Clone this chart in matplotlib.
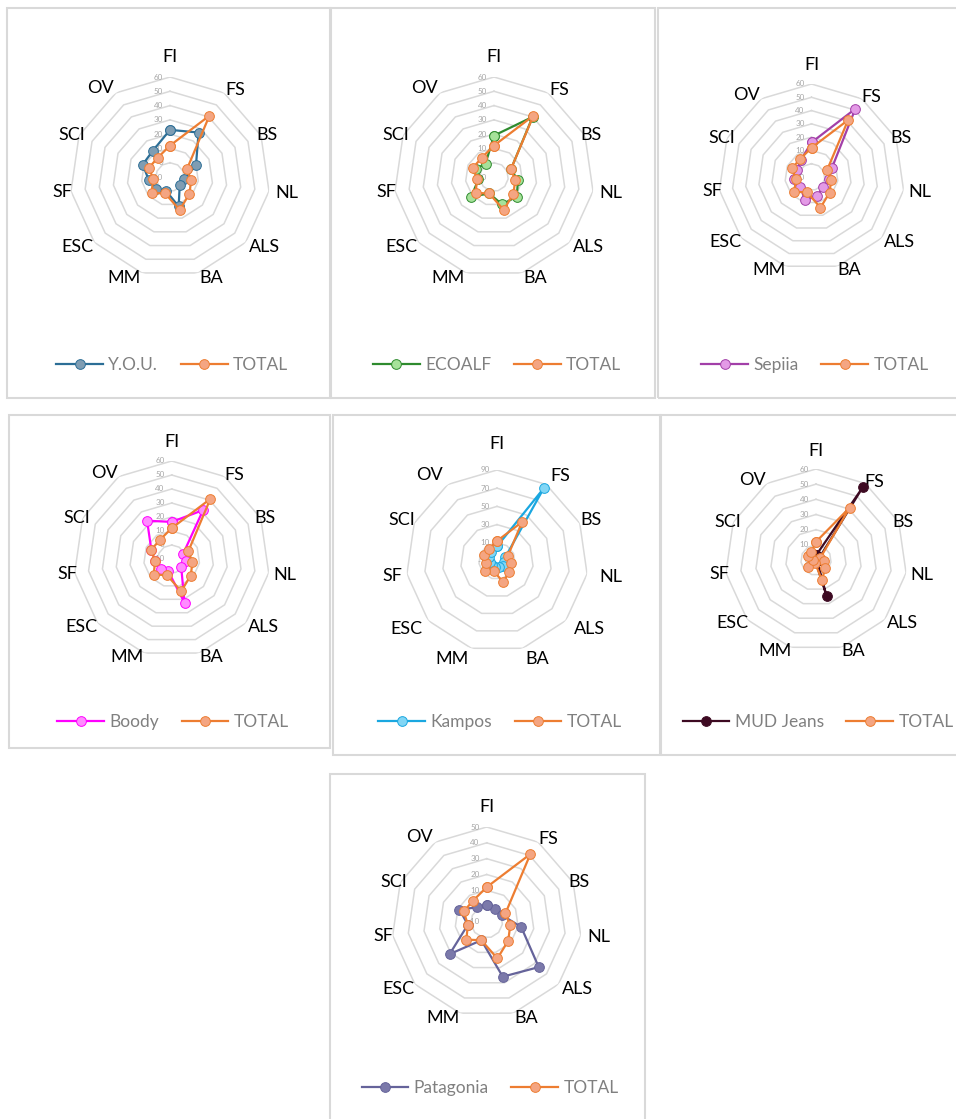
import numpy as np
import matplotlib.pyplot as plt
from matplotlib.patches import Rectangle
from matplotlib import transforms

plt.rcParams['font.family'] = ['Lato', 'DejaVu Sans']

categories = ["FI", "FS", "BS", "NL", "ALS", "BA", "MM", "ESC", "SF", "SCI", "OV"]

# values, one list per brand
total = [12, 41, 3, 5, 8, 14, 2, 7, 2, 6, 6]
you = [23, 27, 10, 0, -1, 11.5, 0, 3, 5, 11, 12]
ecoalf = [19, 40, 3, 7, 11, 10, 2, 11, 1, 4, 1]
sepiia = [16, 51, 7, 3, 1.5, 5, 8, 1, 3, 2, 5]
boody = [16.5, 31.5, -1, 0, -1, 22.5, -1, 0.5, 2, 6, 22.5]
kampos = [6, 85, 0, -2, -2, -3, -3, -3, -2, 0, 2]
mud = [3, 57, 2, 2, 1, 25, 1, 0, 0, 1, 2]
patagonia = [0.5, 0, 0.5, 12, 33.5, 26, 2, 21, 2, 9, 1]

W, H = 956, 1119

# where Excel put each category label: angle (deg) and gap beyond the outer ring (px)
label_angle = [0, 36.8, 66.6, 97.8, 126.4, 157.9, 204.5, 233, 262, 293.2, 321.8]
label_gap = [20, 8.6, 5.7, 18, 18, 9, 11, 16, 9, 6.6, 13]

# name, values, line colour, marker face, (rmin, rmax, step), centre px, radius px,
# extra label gap px, legend px, frame px
panels = [
    ("Y.O.U.", you, "#2c6e96", "#7f9db3", (-10, 60, 10), (170, 177), 100, 0, (172, 365), (7, 8, 330, 398)),
    ("ECOALF", ecoalf, "#2e8b2e", "#a6e29a", (-10, 60, 10), (494, 177), 100, 0, (497, 365), (331, 8, 655, 398)),
    ("Sepiia", sepiia, "#a23fa8", "#e39ae6", (-10, 60, 10), (811.5, 177), 93, -1.5, (815, 365), (658, 8, 962, 398)),
    ("Boody", boody, "#ff00ff", "#ff8cff", (-10, 60, 10), (171.7, 559), 98, -1.5, (173, 722), (9, 415, 330, 748)),
    ("Kampos", kampos, "#1aa7e0", "#82d6f5", (-10, 90, 20), (497, 561), 91, 6, (500, 722), (333, 415, 660, 755)),
    ("MUD Jeans", mud, "#3d0a22", "#3d0a22", (0, 60, 10), (816, 560), 91, -2, (818, 722), (661, 415, 962, 755)),
    ("Patagonia", patagonia, "#65639a", "#7b79aa", (-10, 50, 10), (486.7, 922), 95, 0, (490, 1088), (330, 774, 645, 1125)),
]

total_line = "#ed7d31"
total_face = "#f4a582"
grid_color = "#d9d9d9"

fig = plt.figure(figsize=(W / 100, H / 100), dpi=100)

n = len(categories)
theta = np.linspace(0, 2 * np.pi, n, endpoint=False)
theta_c = np.append(theta, theta[0])

for name, vals, lc, fc, (rmin, rmax, step), (cx, cy), R, extra, (lx, ly), (x0, y0, x1, y1) in panels:
    # panel frame
    fig.patches.append(Rectangle((x0 / W, 1 - y1 / H), (x1 - x0) / W, (y1 - y0) / H,
                                 transform=fig.transFigure, fill=False,
                                 edgecolor=grid_color, linewidth=1.5))

    ax = fig.add_axes([(cx - R) / W, 1 - (cy + R) / H, 2 * R / W, 2 * R / H], projection="polar")
    ax.set_theta_zero_location("N")
    ax.set_theta_direction(-1)
    ax.set_ylim(rmin, rmax)
    ax.grid(False)
    ax.set_xticks([])
    ax.set_yticks([])
    ax.spines["polar"].set_visible(False)
    ax.patch.set_alpha(0)

    ticks = np.arange(rmin, rmax + step / 2, step)
    for t in ticks[1:]:
        ax.plot(theta_c, [t] * (n + 1), color=grid_color, lw=1.1, zorder=1)

    off = transforms.offset_copy(ax.transData, fig=fig, x=-0.07, y=0, units="inches")
    for t in ticks:
        ax.text(0, t, f"{t:g}", transform=off, ha="right", va="center",
                fontsize=5.8, color="#a6a6a6", zorder=2)

    per_px = (rmax - rmin) / R
    for ang, gap, lab in zip(label_angle, label_gap, categories):
        ax.text(np.deg2rad(ang), rmax + (gap + extra) * per_px, lab, ha="center", va="center",
                fontsize=13, color="black")

    h1, = ax.plot(theta_c, vals + vals[:1], color=lc, lw=1.6, marker="o", ms=7,
                  mfc=fc, mec=lc, mew=0.7, zorder=3, clip_on=False, label=name)
    h2, = ax.plot(theta_c, total + total[:1], color=total_line, lw=1.6, marker="o", ms=7,
                  mfc=total_face, mec=total_line, mew=0.7, zorder=4, clip_on=False, label="TOTAL")

    fig.legend(handles=[h1, h2], loc="center", bbox_to_anchor=(lx / W, 1 - ly / H),
               ncol=2, frameon=False, fontsize=12.5, labelcolor="#808080",
               handlelength=2.7, handletextpad=0.3, columnspacing=1.3)

fig.savefig("out.png", dpi=100)
